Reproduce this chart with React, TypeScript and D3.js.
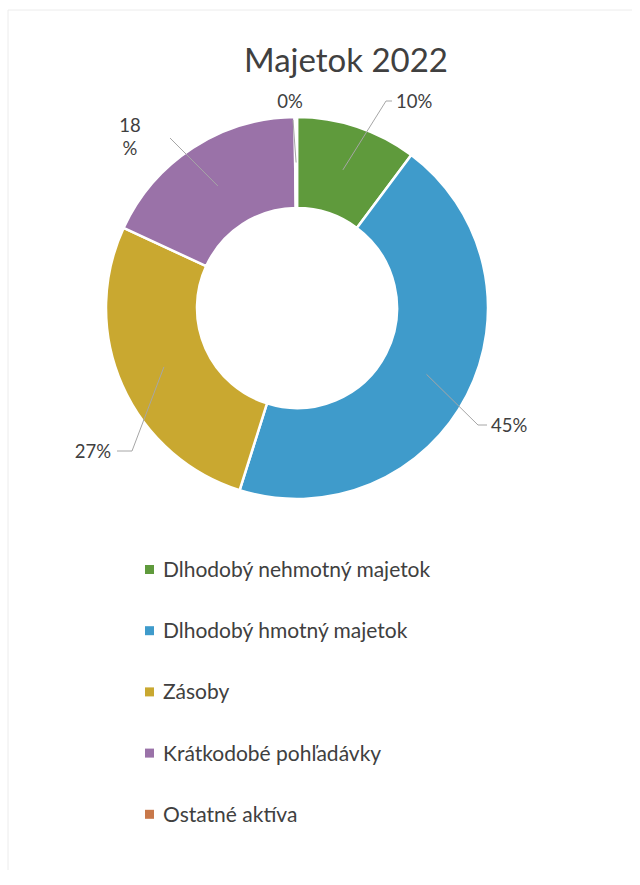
import React from 'react';
import * as d3 from 'd3';

const categories = [
  'Dlhodobý nehmotný majetok',
  'Dlhodobý hmotný majetok',
  'Zásoby',
  'Krátkodobé pohľadávky',
  'Ostatné aktíva',
];
const values = [10.2, 44.6, 27.0, 17.9, 0.2];
const labels = ['10%', '45%', '27%', '18\n%', '0%'];
const colors = ['#5f9a3c', '#3f9bcb', '#c9a830', '#9a72a8', '#c8784a'];

// label placement (text anchor point + elbow of the leader line)
const labelPos = [
  { x: 396, y: 108, anchor: 'start', elbow: [386, 101] },
  { x: 491, y: 432, anchor: 'start', elbow: [478, 425] },
  { x: 111, y: 458, anchor: 'end', elbow: [132, 451] },
  { x: 130, y: 132, anchor: 'middle', elbow: [170, 138] },
  { x: 290, y: 108, anchor: 'middle', elbow: [293, 120] },
];

const W = 640;
const H = 885;
const cx = 297;
const cy = 308;
const outerR = 191;
const innerR = 100;

export default function App() {
  const pie = d3.pie<number>().sort(null).value(d => d);
  const arcs = pie(values);
  const arc = d3.arc<d3.PieArcDatum<number>>().innerRadius(innerR).outerRadius(outerR);
  const midR = (innerR + outerR) / 2;

  return (
    <div style={{ position: 'absolute', left: 0, top: 0 }}>
      <svg width={W} height={H} style={{ display: 'block', background: '#fff' }}
        fontFamily="Lato, 'Open Sans', sans-serif">
        {/* faint scan frame */}
        <line x1={8} y1={10} x2={632} y2={10} stroke="#ececec" strokeWidth={1} />
        <line x1={8} y1={10} x2={8} y2={870} stroke="#ececec" strokeWidth={1} />

        <text x={346} y={72} textAnchor="middle" fontSize={33} fill="#404040">Majetok 2022</text>

        <g transform={`translate(${cx},${cy})`}>
          {arcs.map((a, i) => (
            <path key={i} d={arc(a) || ''} fill={colors[i]} stroke="#fff" strokeWidth={2.5} />
          ))}
        </g>

        {arcs.map((a, i) => {
          const m = (a.startAngle + a.endAngle) / 2;
          const px = cx + midR * Math.sin(m);
          const py = cy - midR * Math.cos(m);
          const lp = labelPos[i];
          const lines = labels[i].split('\n');
          return (
            <g key={i}>
              <polyline
                points={`${px},${py} ${lp.elbow[0]},${lp.elbow[1]} ${lp.anchor === 'start' ? lp.x - 4 : lp.anchor === 'end' ? lp.x + 6 : lp.elbow[0]},${lp.elbow[1]}`}
                fill="none" stroke="#a6a6a6" strokeWidth={1} />
              {lines.map((t, j) => (
                <text key={j} x={lp.x} y={lp.y + j * 23} textAnchor={lp.anchor} fontSize={18.5} fill="#404040">{t}</text>
              ))}
            </g>
          );
        })}

        {categories.map((c, i) => (
          <g key={c} transform={`translate(145,${577 + i * 61.2})`}>
            <rect x={0} y={-12} width={9} height={9} fill={colors[i]} />
            <text x={18} y={0} fontSize={21} fill="#404040">{c}</text>
          </g>
        ))}
      </svg>
    </div>
  );
}
